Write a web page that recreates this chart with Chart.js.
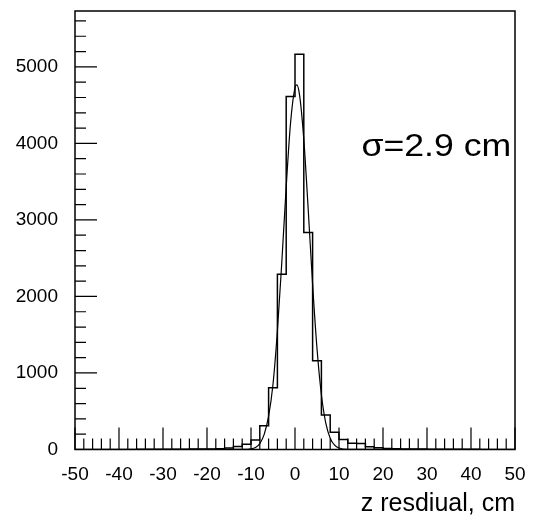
<!DOCTYPE html>
<html>
<head>
<meta charset="utf-8">
<script src="https://cdn.jsdelivr.net/npm/chart.js@4.4.0/dist/chart.umd.min.js"></script>
<style>
  body { margin: 0; background: #fff; }
  #wrap { width: 533px; height: 517px; }
</style>
</head>
<body>
<div id="wrap"><canvas id="resChart"></canvas></div>
<script>
// histogram: 50 bins of 2 cm from -50 to 50
const xMin = -50;
const xMax = 50;
const binWidth = 2;
const binCounts = [
  0, 0, 1, 0, 1, 1, 1, 2, 2, 2, 3, 3, 4, 5, 6, 8,       // -50 .. -18
  10, 18, 40, 68, 124, 311, 808, 2290, 4612,            // -18 .. 0
  5166, 2834, 1161, 451, 225, 130, 82, 78, 35, 22, 14, 10, // 0 .. 24
  8, 6, 5, 4, 4, 3, 2, 2, 2, 1, 1, 1, 0                 // 24 .. 50
];

// gaussian fit
const fitX = [-50, -12, -10, -9, -8, -7, -6, -5, -4, -3, -2, -1, 0, 0.4, 1, 2, 3, 4, 5, 6, 7, 8, 9, 10, 12, 50];
const fitY = [0, 1, 8, 26, 77, 197, 435, 853, 1548, 2446, 3432, 4275, 4730, 4765, 4646, 4052, 3140, 2158, 1320, 716, 344, 147, 56, 19, 2, 0];

const xTickLabels = [-50, -40, -30, -20, -10, 0, 10, 20, 30, 40, 50];
const yTickLabels = [0, 1000, 2000, 3000, 4000, 5000];
const yMax = 5730;
const xMinorStep = 2;
const yMinorStep = 200;
const fitLabel = 'σ=2.9 cm';

const font = '"Liberation Sans", Arial, sans-serif';

const histPoints = binCounts.map((c, i) => ({ x: xMin + i * binWidth, y: c }));
histPoints.push({ x: xMax, y: binCounts[binCounts.length - 1] });
const fitPoints = fitX.map((v, i) => ({ x: v, y: fitY[i] }));

// ROOT style frame with inward ticks, plus the sigma text
const rootFrame = {
  id: 'rootFrame',
  afterDatasetsDraw(chart) {
    const { ctx, chartArea: a, scales: { x, y } } = chart;
    ctx.save();
    ctx.strokeStyle = '#000';
    ctx.lineWidth = 1.2;
    ctx.beginPath();
    for (let v = xMin; v <= xMax; v += xMinorStep) {
      const px = x.getPixelForValue(v);
      const len = v % 10 === 0 ? 22 : 11;
      ctx.moveTo(px, a.bottom);
      ctx.lineTo(px, a.bottom - len);
    }
    for (let v = 0; v <= yMax; v += yMinorStep) {
      const py = y.getPixelForValue(v);
      const len = v % 1000 === 0 ? 22 : 11;
      ctx.moveTo(a.left, py);
      ctx.lineTo(a.left + len, py);
    }
    ctx.stroke();
    ctx.lineWidth = 1.5;
    ctx.strokeRect(a.left, a.top, a.right - a.left, a.bottom - a.top);

    // the label is a bit wider than the plain font
    ctx.fillStyle = '#000';
    ctx.font = '31px ' + font;
    ctx.textAlign = 'left';
    ctx.textBaseline = 'alphabetic';
    ctx.translate(x.getPixelForValue(15.1), y.getPixelForValue(3830));
    ctx.scale(1.15, 1);
    ctx.fillText(fitLabel, 0, 0);
    ctx.restore();
  }
};

const ctx = document.getElementById('resChart').getContext('2d');
const resChart = new Chart(ctx, {
  type: 'line',
  data: {
    datasets: [{
      label: 'z residual',
      data: histPoints,
      stepped: 'before',
      borderColor: '#000',
      borderWidth: 1.5,
      pointRadius: 0,
      fill: false
    }, {
      label: 'fit',
      data: fitPoints,
      cubicInterpolationMode: 'monotone',
      borderColor: '#000',
      borderWidth: 1.2,
      pointRadius: 0,
      fill: false
    }]
  },
  options: {
    responsive: true,
    maintainAspectRatio: false,
    animation: false,
    layout: { padding: { left: 0, top: 11, right: 18, bottom: 0 } },
    plugins: {
      legend: { display: false },
      tooltip: { enabled: false }
    },
    scales: {
      x: {
        type: 'linear',
        min: xMin,
        max: xMax,
        grid: { display: false, drawTicks: false },
        border: { display: false },
        afterBuildTicks: s => { s.ticks = xTickLabels.map(v => ({ value: v })); },
        afterFit: s => {
          s.height = 67.5;
          s.paddingLeft = 0;
          s.paddingRight = 0;
        },
        ticks: {
          color: '#000',
          padding: 13.5,
          maxRotation: 0,
          autoSkip: false,
          font: { family: font, size: 19 },
          callback: v => v
        },
        title: {
          display: true,
          text: 'z resdiual, cm',
          align: 'end',
          color: '#000',
          padding: { top: 0, bottom: 0 },
          font: { family: font, size: 25, lineHeight: 1 }
        }
      },
      y: {
        min: 0,
        max: yMax,
        grid: { display: false, drawTicks: false },
        border: { display: false },
        afterBuildTicks: s => { s.ticks = yTickLabels.map(v => ({ value: v })); },
        afterFit: s => {
          s.width = 75;
          s.paddingTop = 0;
          s.paddingBottom = 0;
        },
        ticks: {
          color: '#000',
          padding: 17,
          font: { family: font, size: 19 },
          callback: v => v
        }
      }
    }
  },
  plugins: [rootFrame]
});
</script>
</body>
</html>
